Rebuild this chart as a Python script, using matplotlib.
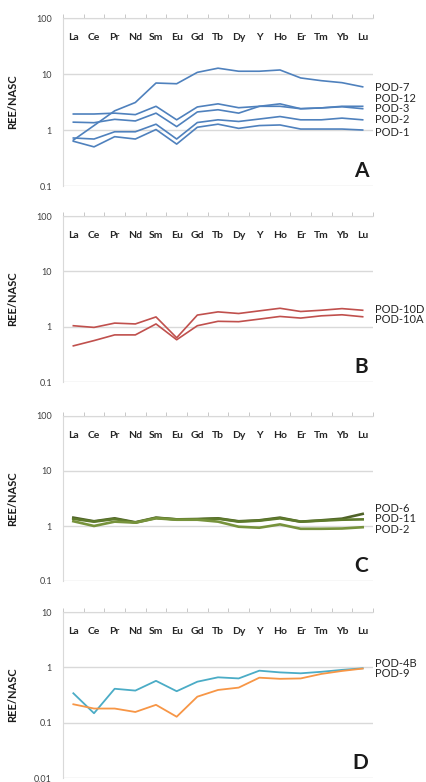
import matplotlib
matplotlib.use("Agg")
import matplotlib.pyplot as plt
from matplotlib.ticker import FixedLocator, FuncFormatter, NullLocator

plt.rcParams['font.family'] = ['Lato', 'DejaVu Sans']

elements = ["La", "Ce", "Pr", "Nd", "Sm", "Eu", "Gd", "Tb", "Dy", "Y", "Ho", "Er", "Tm", "Yb", "Lu"]

# Panel A
pod7 = [0.66, 1.2, 2.2, 3.1, 6.9, 6.7, 10.7, 12.7, 11.2, 11.2, 11.8, 8.5, 7.6, 7.0, 5.9]
pod12 = [1.93, 1.93, 2.0, 1.88, 2.65, 1.52, 2.58, 2.93, 2.5, 2.65, 2.65, 2.4, 2.48, 2.65, 2.65]
pod3 = [1.38, 1.35, 1.55, 1.45, 2.0, 1.15, 2.1, 2.3, 2.0, 2.65, 2.93, 2.4, 2.48, 2.6, 2.4]
pod2a = [0.72, 0.69, 0.93, 0.93, 1.27, 0.69, 1.36, 1.52, 1.42, 1.57, 1.74, 1.52, 1.52, 1.63, 1.52]
pod1 = [0.63, 0.50, 0.76, 0.69, 1.02, 0.56, 1.12, 1.27, 1.07, 1.2, 1.23, 1.04, 1.04, 1.04, 1.0]

# Panel B
pod10d = [1.04, 0.97, 1.16, 1.12, 1.5, 0.63, 1.62, 1.85, 1.73, 1.93, 2.15, 1.88, 1.98, 2.12, 1.98]
pod10a = [0.45, 0.56, 0.71, 0.71, 1.12, 0.58, 1.04, 1.25, 1.23, 1.37, 1.53, 1.43, 1.57, 1.64, 1.51]

# Panel C
pod6 = [1.42, 1.22, 1.38, 1.17, 1.42, 1.32, 1.34, 1.38, 1.22, 1.27, 1.42, 1.2, 1.27, 1.36, 1.66]
pod11 = [1.35, 1.2, 1.34, 1.15, 1.40, 1.32, 1.32, 1.36, 1.2, 1.25, 1.38, 1.2, 1.25, 1.3, 1.32]
pod2c = [1.22, 1.0, 1.2, 1.15, 1.38, 1.3, 1.3, 1.2, 0.97, 0.93, 1.07, 0.89, 0.89, 0.9, 0.95]

# Panel D
pod4b = [0.34, 0.148, 0.41, 0.38, 0.57, 0.37, 0.55, 0.66, 0.63, 0.87, 0.81, 0.78, 0.83, 0.9, 0.96]
pod9 = [0.215, 0.18, 0.18, 0.156, 0.21, 0.128, 0.295, 0.39, 0.43, 0.65, 0.62, 0.63, 0.76, 0.86, 0.95]

panels = [
    dict(letter="A", ylim=(0.1, 100), ticks=[0.1, 1, 10, 100], lw=1.2,
         series=[("POD-7", pod7, "#4f81bd", 5.7), ("POD-12", pod12, "#4f81bd", 3.6),
                 ("POD-3", pod3, "#4f81bd", 2.4), ("POD-2", pod2a, "#4f81bd", 1.55),
                 ("POD-1", pod1, "#4f81bd", 0.89)],
         box=(18, 186)),
    dict(letter="B", ylim=(0.1, 100), ticks=[0.1, 1, 10, 100], lw=1.2,
         series=[("POD-10D", pod10d, "#c0504d", 2.07), ("POD-10A", pod10a, "#c0504d", 1.33)],
         box=(216, 382)),
    dict(letter="C", ylim=(0.1, 100), ticks=[0.1, 1, 10, 100], lw=1.9,
         series=[("POD-6", pod6, "#4f6228", 2.08), ("POD-11", pod11, "#5e7a2c", 1.36),
                 ("POD-2", pod2c, "#77933c", 0.88)],
         box=(416, 581)),
    dict(letter="D", ylim=(0.01, 10), ticks=[0.01, 0.1, 1, 10], lw=1.3,
         series=[("POD-4B", pod4b, "#4bacc6", 1.19), ("POD-9", pod9, "#f79646", 0.77)],
         box=(612, 778)),
]

W, H = 427, 782
fig = plt.figure(figsize=(W / 100, H / 100), dpi=100)

left_px, right_px = 63, 373
x = list(range(len(elements)))

def fmt(v, pos):
    if v >= 1:
        return f"{int(round(v))}"
    return f"{v:g}"

for p in panels:
    top, bot = p["box"]
    ax = fig.add_axes([left_px / W, 1 - bot / H, (right_px - left_px) / W, (bot - top) / H])
    ax.set_yscale("log")
    ax.set_ylim(*p["ylim"])
    ax.set_xlim(-0.5, len(elements) - 0.5)
    for name, vals, col, ly in p["series"]:
        ax.plot(x, vals, color=col, lw=p["lw"], solid_joinstyle="round", zorder=3)
        ax.text(1.005, ly, name, transform=ax.get_yaxis_transform(), ha="left", va="center",
                fontsize=8, color="#262626", clip_on=False)
    ax.yaxis.set_major_locator(FixedLocator(p["ticks"]))
    ax.yaxis.set_minor_locator(NullLocator())
    ax.yaxis.set_major_formatter(FuncFormatter(fmt))
    ax.grid(axis="y", which="major", color="#d9d9d9", lw=1.0, zorder=0)
    ax.tick_params(axis="y", length=0, pad=8, labelsize=6.5, labelcolor="#404040")
    for s in ("right", "bottom"):
        ax.spines[s].set_visible(False)
    ax.spines["left"].set_color("#d9d9d9")
    ax.spines["top"].set_color("#d9d9d9")
    ax.xaxis.set_major_locator(FixedLocator(x))
    ax.set_xticks(x)
    ax.set_xticklabels(elements)
    ax.xaxis.set_minor_locator(FixedLocator([i - 0.5 for i in range(len(elements) + 1)]))
    ax.tick_params(axis="x", which="major", top=True, labeltop=True, bottom=False,
                   labelbottom=False, length=0, pad=-17, labelsize=7.5, labelcolor="#262626")
    for lab in ax.get_xticklabels():
        lab.set_fontweight("bold")
    ax.tick_params(axis="x", which="minor", top=True, bottom=False, direction="out",
                   length=3, color="#bfbfbf")
    ax.set_ylabel("REE/NASC", fontsize=8, fontweight="bold", color="#1a1a1a")
    ax.yaxis.set_label_coords(-0.145, 0.5)
    ax.text(0.985, 0.03, p["letter"], transform=ax.transAxes, ha="right", va="bottom",
            fontsize=15, fontweight="bold", color="#1a1a1a")
    ax.set_facecolor("none")

fig.savefig("out.png", dpi=100)
